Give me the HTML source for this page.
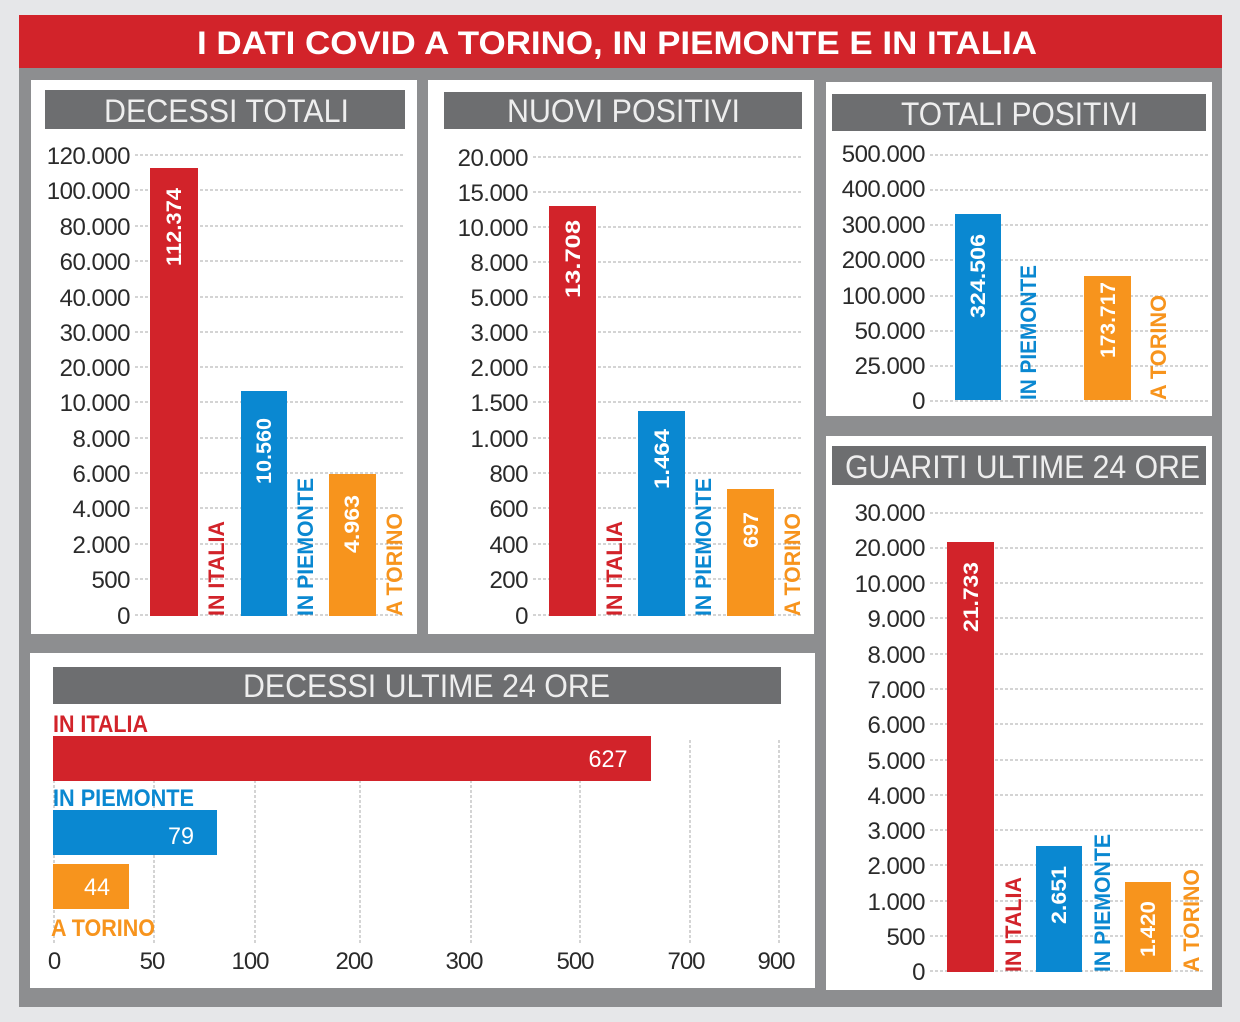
<!DOCTYPE html>
<html><head><meta charset="utf-8"><style>html,body{margin:0;padding:0;background:#e6e7e9;}svg{display:block}</style></head>
<body>
<svg width="1240" height="1022" viewBox="0 0 1240 1022" xmlns="http://www.w3.org/2000/svg" font-family="Liberation Sans, sans-serif">
<rect x="0" y="0" width="1240" height="1022" fill="#e6e7e9"/>
<rect x="19" y="15" width="1203" height="992" fill="#8d8e90"/>
<rect x="19" y="15" width="1203" height="53" fill="#d2232a"/>
<text x="197" y="54" font-size="32" font-weight="bold" fill="#fff" textLength="840" lengthAdjust="spacingAndGlyphs">I DATI COVID A TORINO, IN PIEMONTE E IN ITALIA</text>

<!-- panels -->
<rect x="31" y="80" width="386" height="554" fill="#fff"/>
<rect x="428" y="80" width="386" height="554" fill="#fff"/>
<rect x="826" y="82" width="386" height="334" fill="#fff"/>
<rect x="826" y="436" width="386" height="554" fill="#fff"/>
<rect x="30" y="653" width="785" height="335" fill="#fff"/>

<!-- headers -->
<g fill="#6d6e70">
<rect x="45" y="90" width="360" height="39"/>
<rect x="444" y="92" width="358" height="37"/>
<rect x="832" y="94" width="374" height="37"/>
<rect x="832" y="446" width="374" height="39"/>
<rect x="53" y="667" width="728" height="37"/>
</g>
<g fill="#eeeeee" font-size="32">
<text x="104" y="122" textLength="245" lengthAdjust="spacingAndGlyphs">DECESSI TOTALI</text>
<text x="507" y="122" textLength="233" lengthAdjust="spacingAndGlyphs">NUOVI POSITIVI</text>
<text x="901" y="125" textLength="237" lengthAdjust="spacingAndGlyphs">TOTALI POSITIVI</text>
<text x="845" y="478" textLength="355" lengthAdjust="spacingAndGlyphs">GUARITI ULTIME 24 ORE</text>
<text x="243" y="697" textLength="367" lengthAdjust="spacingAndGlyphs">DECESSI ULTIME 24 ORE</text>
</g>

<!-- gridlines -->
<g stroke="#aaa" stroke-width="1" stroke-dasharray="3,2">
<line x1="135" x2="405" y1="155" y2="155"/><line x1="135" x2="405" y1="190" y2="190"/><line x1="135" x2="405" y1="226" y2="226"/><line x1="135" x2="405" y1="261" y2="261"/><line x1="135" x2="405" y1="297" y2="297"/><line x1="135" x2="405" y1="332" y2="332"/><line x1="135" x2="405" y1="367" y2="367"/><line x1="135" x2="405" y1="402" y2="402"/><line x1="135" x2="405" y1="438" y2="438"/><line x1="135" x2="405" y1="473" y2="473"/><line x1="135" x2="405" y1="508" y2="508"/><line x1="135" x2="405" y1="544" y2="544"/><line x1="135" x2="405" y1="579" y2="579"/><line x1="135" x2="405" y1="615" y2="615"/>
<line x1="533" x2="803" y1="157" y2="157"/><line x1="533" x2="803" y1="192" y2="192"/><line x1="533" x2="803" y1="227" y2="227"/><line x1="533" x2="803" y1="262" y2="262"/><line x1="533" x2="803" y1="297" y2="297"/><line x1="533" x2="803" y1="332" y2="332"/><line x1="533" x2="803" y1="367" y2="367"/><line x1="533" x2="803" y1="402" y2="402"/><line x1="533" x2="803" y1="438" y2="438"/><line x1="533" x2="803" y1="473" y2="473"/><line x1="533" x2="803" y1="508" y2="508"/><line x1="533" x2="803" y1="544" y2="544"/><line x1="533" x2="803" y1="579" y2="579"/><line x1="533" x2="803" y1="615" y2="615"/>
<line x1="930" x2="1210" y1="155" y2="155"/><line x1="930" x2="1210" y1="190" y2="190"/><line x1="930" x2="1210" y1="225" y2="225"/><line x1="930" x2="1210" y1="260" y2="260"/><line x1="930" x2="1210" y1="296" y2="296"/><line x1="930" x2="1210" y1="331" y2="331"/><line x1="930" x2="1210" y1="366" y2="366"/><line x1="930" x2="1210" y1="401" y2="401"/>
<line x1="930" x2="1203" y1="513" y2="513"/><line x1="930" x2="1203" y1="548" y2="548"/><line x1="930" x2="1203" y1="583" y2="583"/><line x1="930" x2="1203" y1="618" y2="618"/><line x1="930" x2="1203" y1="654" y2="654"/><line x1="930" x2="1203" y1="689" y2="689"/><line x1="930" x2="1203" y1="724" y2="724"/><line x1="930" x2="1203" y1="760" y2="760"/><line x1="930" x2="1203" y1="795" y2="795"/><line x1="930" x2="1203" y1="830" y2="830"/><line x1="930" x2="1203" y1="865" y2="865"/><line x1="930" x2="1203" y1="901" y2="901"/><line x1="930" x2="1203" y1="936" y2="936"/><line x1="930" x2="1203" y1="971" y2="971"/>
<line x1="54" x2="54" y1="740" y2="945"/><line x1="154" x2="154" y1="740" y2="945"/><line x1="255" x2="255" y1="740" y2="945"/><line x1="360" x2="360" y1="740" y2="945"/><line x1="471" x2="471" y1="740" y2="945"/><line x1="580" x2="580" y1="740" y2="945"/><line x1="690" x2="690" y1="740" y2="945"/><line x1="779" x2="779" y1="740" y2="945"/>
</g>

<!-- tick labels -->
<g font-size="24" fill="#2a2a2a" text-anchor="end" letter-spacing="-0.5">
<text x="130" y="164">120.000</text><text x="130" y="199">100.000</text><text x="130" y="235">80.000</text><text x="130" y="270">60.000</text><text x="130" y="306">40.000</text><text x="130" y="341">30.000</text><text x="130" y="376">20.000</text><text x="130" y="411">10.000</text><text x="130" y="447">8.000</text><text x="130" y="482">6.000</text><text x="130" y="517">4.000</text><text x="130" y="553">2.000</text><text x="130" y="588">500</text><text x="130" y="624">0</text>
<text x="528" y="166">20.000</text><text x="528" y="201">15.000</text><text x="528" y="236">10.000</text><text x="528" y="271">8.000</text><text x="528" y="306">5.000</text><text x="528" y="341">3.000</text><text x="528" y="376">2.000</text><text x="528" y="411">1.500</text><text x="528" y="447">1.000</text><text x="528" y="482">800</text><text x="528" y="517">600</text><text x="528" y="553">400</text><text x="528" y="588">200</text><text x="528" y="624">0</text>
<text x="925" y="162">500.000</text><text x="925" y="197">400.000</text><text x="925" y="233">300.000</text><text x="925" y="268">200.000</text><text x="925" y="304">100.000</text><text x="925" y="339">50.000</text><text x="925" y="374">25.000</text><text x="925" y="409">0</text>
<text x="925" y="521">30.000</text><text x="925" y="556">20.000</text><text x="925" y="592">10.000</text><text x="925" y="627">9.000</text><text x="925" y="663">8.000</text><text x="925" y="698">7.000</text><text x="925" y="733">6.000</text><text x="925" y="769">5.000</text><text x="925" y="804">4.000</text><text x="925" y="839">3.000</text><text x="925" y="874">2.000</text><text x="925" y="910">1.000</text><text x="925" y="945">500</text><text x="925" y="980">0</text>
</g>
<g font-size="24" fill="#2a2a2a" text-anchor="middle" letter-spacing="-1">
<text x="54" y="969">0</text><text x="152" y="969">50</text><text x="250" y="969">100</text><text x="354" y="969">200</text><text x="464" y="969">300</text><text x="575" y="969">500</text><text x="686" y="969">700</text><text x="776" y="969">900</text>
</g>

<!-- bars -->
<rect x="150" y="168" width="48" height="448" fill="#d2232a"/>
<rect x="241" y="391" width="46" height="225" fill="#0a88d1"/>
<rect x="329" y="474" width="47" height="142" fill="#f7941d"/>
<rect x="549" y="206" width="47" height="410" fill="#d2232a"/>
<rect x="638" y="411" width="47" height="205" fill="#0a88d1"/>
<rect x="727" y="489" width="47" height="127" fill="#f7941d"/>
<rect x="955" y="214" width="46" height="186" fill="#0a88d1"/>
<rect x="1084" y="276" width="47" height="124" fill="#f7941d"/>
<rect x="947" y="542" width="47" height="430" fill="#d2232a"/>
<rect x="1036" y="846" width="46" height="126" fill="#0a88d1"/>
<rect x="1125" y="882" width="46" height="90" fill="#f7941d"/>
<rect x="53" y="736" width="598" height="45" fill="#d2232a"/>
<rect x="53" y="810" width="164" height="45" fill="#0a88d1"/>
<rect x="53" y="864" width="76" height="45" fill="#f7941d"/>

<!-- values -->
<g font-size="21" font-weight="bold" fill="#fff" text-anchor="middle">
<text transform="translate(181,227) rotate(-90)" textLength="78" lengthAdjust="spacingAndGlyphs">112.374</text>
<text transform="translate(271,451) rotate(-90)" textLength="66" lengthAdjust="spacingAndGlyphs">10.560</text>
<text transform="translate(359,524) rotate(-90)" textLength="58" lengthAdjust="spacingAndGlyphs">4.963</text>
<text transform="translate(580,259) rotate(-90)" textLength="78" lengthAdjust="spacingAndGlyphs">13.708</text>
<text transform="translate(669,459) rotate(-90)" textLength="60" lengthAdjust="spacingAndGlyphs">1.464</text>
<text transform="translate(758,530) rotate(-90)" textLength="36" lengthAdjust="spacingAndGlyphs">697</text>
<text transform="translate(985,276) rotate(-90)" textLength="84" lengthAdjust="spacingAndGlyphs">324.506</text>
<text transform="translate(1115,320) rotate(-90)" textLength="76" lengthAdjust="spacingAndGlyphs">173.717</text>
<text transform="translate(978,597) rotate(-90)" textLength="70" lengthAdjust="spacingAndGlyphs">21.733</text>
<text transform="translate(1066,895) rotate(-90)" textLength="58" lengthAdjust="spacingAndGlyphs">2.651</text>
<text transform="translate(1155,929) rotate(-90)" textLength="56" lengthAdjust="spacingAndGlyphs">1.420</text>
<text x="608" y="767" font-size="24" font-weight="normal" textLength="39" lengthAdjust="spacingAndGlyphs">627</text>
<text x="181" y="844" font-size="24" font-weight="normal" textLength="26" lengthAdjust="spacingAndGlyphs">79</text>
<text x="97" y="895" font-size="24" font-weight="normal" textLength="26" lengthAdjust="spacingAndGlyphs">44</text>
</g>

<!-- category labels -->
<g font-size="22" font-weight="bold">
<text transform="translate(224,616) rotate(-90)" fill="#d2232a" textLength="95" lengthAdjust="spacingAndGlyphs">IN ITALIA</text>
<text transform="translate(313,616) rotate(-90)" fill="#0a88d1" textLength="138" lengthAdjust="spacingAndGlyphs">IN PIEMONTE</text>
<text transform="translate(402,616) rotate(-90)" fill="#f7941d" textLength="103" lengthAdjust="spacingAndGlyphs">A TORINO</text>
<text transform="translate(622,616) rotate(-90)" fill="#d2232a" textLength="95" lengthAdjust="spacingAndGlyphs">IN ITALIA</text>
<text transform="translate(711,616) rotate(-90)" fill="#0a88d1" textLength="138" lengthAdjust="spacingAndGlyphs">IN PIEMONTE</text>
<text transform="translate(800,616) rotate(-90)" fill="#f7941d" textLength="103" lengthAdjust="spacingAndGlyphs">A TORINO</text>
<text transform="translate(1036,400) rotate(-90)" fill="#0a88d1" textLength="135" lengthAdjust="spacingAndGlyphs">IN PIEMONTE</text>
<text transform="translate(1166,400) rotate(-90)" fill="#f7941d" textLength="105" lengthAdjust="spacingAndGlyphs">A TORINO</text>
<text transform="translate(1021,972) rotate(-90)" fill="#d2232a" textLength="95" lengthAdjust="spacingAndGlyphs">IN ITALIA</text>
<text transform="translate(1110,972) rotate(-90)" fill="#0a88d1" textLength="138" lengthAdjust="spacingAndGlyphs">IN PIEMONTE</text>
<text transform="translate(1199,972) rotate(-90)" fill="#f7941d" textLength="103" lengthAdjust="spacingAndGlyphs">A TORINO</text>
<text x="53" y="732" fill="#d2232a" font-size="24" textLength="95" lengthAdjust="spacingAndGlyphs">IN ITALIA</text>
<text x="53" y="806" fill="#0a88d1" font-size="24" textLength="141" lengthAdjust="spacingAndGlyphs">IN PIEMONTE</text>
<text x="51" y="936" fill="#f7941d" font-size="24" textLength="104" lengthAdjust="spacingAndGlyphs">A TORINO</text>
</g>
</svg>
</body></html>
